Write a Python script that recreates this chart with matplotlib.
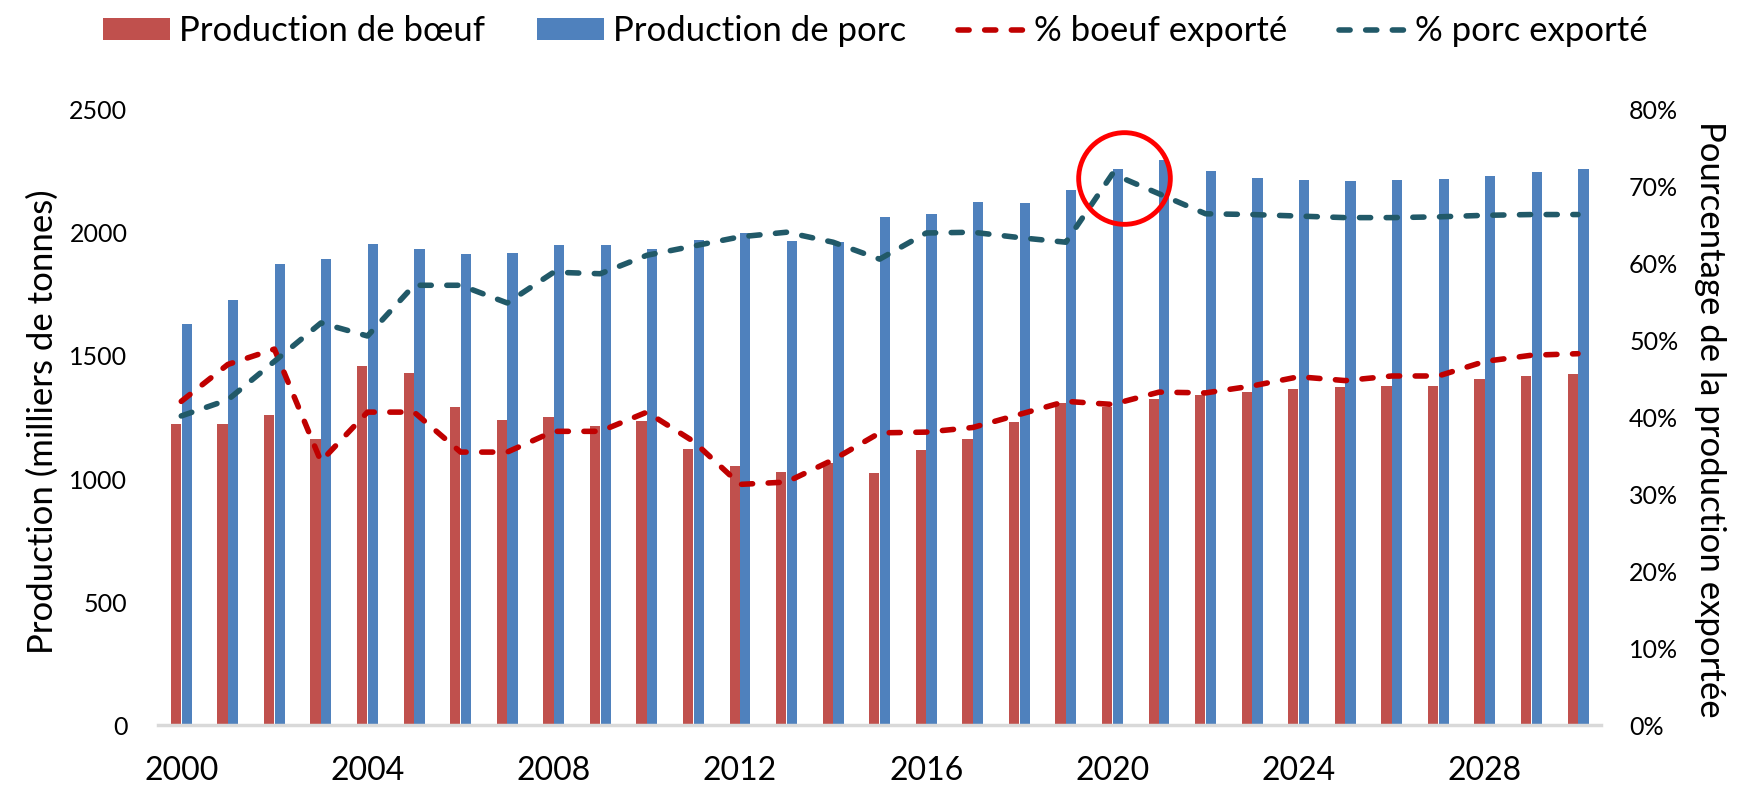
import matplotlib
matplotlib.use("Agg")
import matplotlib.pyplot as plt
import numpy as np

plt.rcParams["font.family"] = ["Lato", "DejaVu Sans"]

years = list(range(2000, 2031))

# Production (milliers de tonnes)
boeuf_prod = [1224, 1222, 1260, 1163, 1459, 1431, 1293, 1240, 1252, 1217,
              1236, 1121, 1053, 1030, 1066, 1023, 1117, 1163, 1233, 1308,
              1294, 1327, 1341, 1355, 1365, 1374, 1378, 1377, 1408, 1420, 1426]
porc_prod = [1631, 1726, 1874, 1896, 1955, 1934, 1915, 1917, 1953, 1951,
             1934, 1972, 2001, 1966, 1963, 2066, 2079, 2127, 2123, 2173,
             2261, 2297, 2253, 2224, 2215, 2211, 2215, 2221, 2232, 2248, 2260]

# Part exportée (%)
boeuf_export = [42.1, 46.9, 48.9, 34.3, 40.7, 40.7, 35.5, 35.5, 38.2, 38.2,
                40.7, 36.9, 31.3, 31.6, 34.5, 38.0, 38.1, 38.7, 40.4, 42.1,
                41.7, 43.3, 43.2, 44.1, 45.3, 44.8, 45.4, 45.4, 47.3, 48.1, 48.3]
porc_export = [40.2, 42.3, 47.3, 52.3, 50.6, 57.2, 57.2, 54.9, 58.9, 58.7,
               61.1, 62.3, 63.5, 64.1, 62.8, 60.6, 64.0, 64.1, 63.4, 62.8,
               71.7, 69.1, 66.5, 66.4, 66.2, 66.0, 66.0, 66.1, 66.3, 66.4, 66.4]

year_labels = [str(y) if (y - 2000) % 4 == 0 else "" for y in years]
highlight_year = 2020

x = np.arange(len(years))

fig = plt.figure(figsize=(17.4, 7.89), dpi=100)
ax = fig.add_axes([0.0908, 0.0811, 0.8295, 0.7795])
ax2 = ax.twinx()

bw = 0.22
b1 = ax.bar(x - 0.115, boeuf_prod, width=bw, color="#C0504D", label="Production de bœuf")
b2 = ax.bar(x + 0.115, porc_prod, width=bw, color="#4F81BD", label="Production de porc")

l1, = ax2.plot(x, boeuf_export, color="#C00000", lw=4, dashes=(2, 2.8),
               dash_capstyle="round", label="% boeuf exporté")
l2, = ax2.plot(x, porc_export, color="#215968", lw=4, dashes=(2, 2.8),
               dash_capstyle="round", label="% porc exporté")

# cercle rouge autour du pic 2020
i = years.index(highlight_year)
ax2.plot(x[i] + 0.25, porc_export[i] - 0.6, marker="o", ms=66, mfc="none",
         mec="#FF0000", mew=3.5)

ax.set_xlim(-0.5, len(years) - 0.5)
ax.set_ylim(0, 2500)
ax2.set_ylim(0, 80)
ax.set_yticks(range(0, 2501, 500))
ax2.set_yticks(range(0, 81, 10))
ax2.set_yticklabels([f"{v}%" for v in range(0, 81, 10)])
ax.set_xticks(x)
ax.set_xticklabels(year_labels)

for a in (ax, ax2):
    for s in a.spines.values():
        s.set_visible(False)
    a.tick_params(length=0)
ax.spines["bottom"].set_visible(True)
ax.spines["bottom"].set_color("#D9D9D9")
ax.spines["bottom"].set_linewidth(2.5)

ax.tick_params(axis="x", labelsize=23, pad=22)
ax.tick_params(axis="y", labelsize=18, pad=22)
ax2.tick_params(axis="y", labelsize=18, pad=20)

ax.set_ylabel("Production (milliers de tonnes)", fontsize=25)
ax.yaxis.set_label_coords(-0.069, 0.493)
ax2.set_ylabel("Pourcentage de la production exportée", fontsize=25, rotation=270, va="center")
ax2.yaxis.set_label_coords(1.075, 0.4975)

fig.legend(handles=[b1, b2, l1, l2], loc="upper center", bbox_to_anchor=(0.503, 1.02),
           ncol=4, frameon=False, fontsize=25, handlelength=1.93, handleheight=0.6,
           columnspacing=1.5, handletextpad=0.26)

fig.savefig("out.png", dpi=100)
